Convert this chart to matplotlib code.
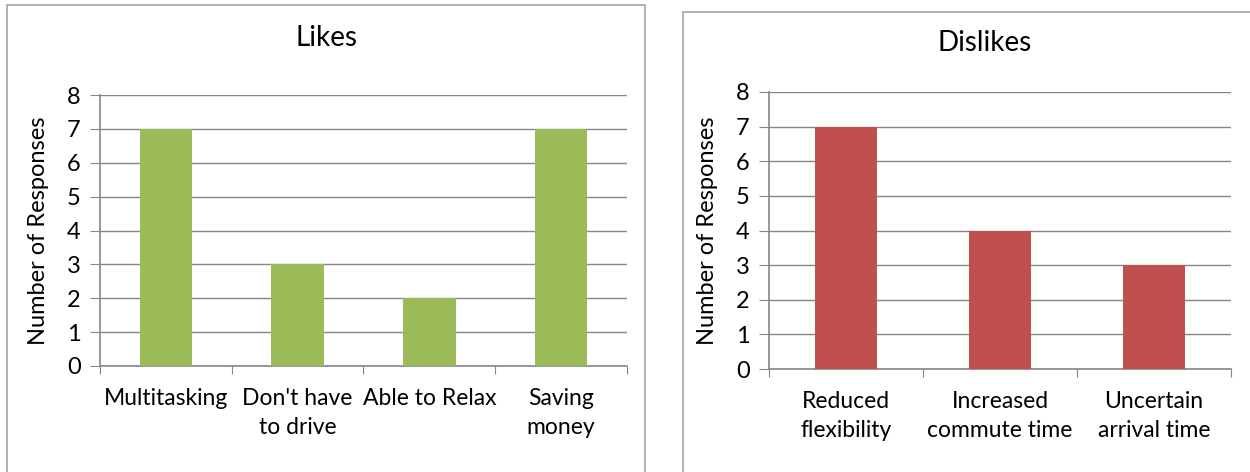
import matplotlib
matplotlib.use("Agg")
import matplotlib.pyplot as plt
from matplotlib.patches import Rectangle

plt.rcParams["font.family"] = ["Lato", "DejaVu Sans"]

likes_labels = ["Multitasking", "Don't have\nto drive", "Able to Relax", "Saving\nmoney"]
likes_counts = [7, 3, 2, 7]

dislikes_labels = ["Reduced\nflexibility", "Increased\ncommute time", "Uncertain\narrival time"]
dislikes_counts = [7, 4, 3]

W, H = 1250, 472
GREEN = "#9BBB59"
RED = "#C0504D"
GRID = "#868686"
FRAME = "#A6A6A6"


def px_axes(fig, x0, y0, x1, y1):
    # pixel box (top-left origin) -> figure axes
    return fig.add_axes([x0 / W, 1 - y1 / H, (x1 - x0) / W, (y1 - y0) / H])


def bar_panel(ax, labels, counts, color, title, title_xy):
    n = len(labels)
    ax.bar(range(n), counts, width=0.4, color=color, zorder=3)
    ax.set_xlim(-0.5, n - 0.5)
    ax.set_ylim(0, 8)
    ax.set_yticks(range(9))
    ax.yaxis.grid(True, color=GRID, linewidth=1, zorder=0)
    ax.set_axisbelow(True)
    for s in ("top", "right"):
        ax.spines[s].set_visible(False)
    for s in ("left", "bottom"):
        ax.spines[s].set_color(GRID)
        ax.spines[s].set_linewidth(1.2)
    ax.tick_params(axis="y", length=7, color=GRID, labelsize=17, pad=7)
    # category ticks sit on the boundaries, labels in the middle
    ax.set_xticks([i - 0.5 for i in range(n + 1)])
    ax.set_xticklabels([])
    ax.tick_params(axis="x", length=6, color=GRID, direction="out")
    ax.set_xticks(range(n), minor=True)
    ax.set_xticklabels(labels, minor=True, fontsize=16.5, linespacing=1.45, va="top")
    ax.tick_params(axis="x", which="minor", length=0, pad=16)
    ax.set_ylabel("Number of Responses", fontsize=17, labelpad=13)
    fig.text(title_xy[0] / W, 1 - title_xy[1] / H, title, fontsize=20,
             ha="center", va="center")


fig = plt.figure(figsize=(W / 100, H / 100), dpi=100)
fig.patches.append(Rectangle((7 / W, -0.05), (645 - 7) / W, 1.05 - 5 / H,
                             transform=fig.transFigure, fill=False,
                             edgecolor=FRAME, linewidth=1.2))
fig.patches.append(Rectangle((683 / W, -0.05), 0.5, 1.05 - 12 / H,
                             transform=fig.transFigure, fill=False,
                             edgecolor=FRAME, linewidth=1.2))

ax1 = px_axes(fig, 100, 95, 627, 366)
bar_panel(ax1, likes_labels, likes_counts, GREEN, "Likes", (327, 38))

ax2 = px_axes(fig, 769, 92, 1231, 369)
bar_panel(ax2, dislikes_labels, dislikes_counts, RED, "Dislikes", (985, 43))

fig.savefig("out.png", dpi=100)
